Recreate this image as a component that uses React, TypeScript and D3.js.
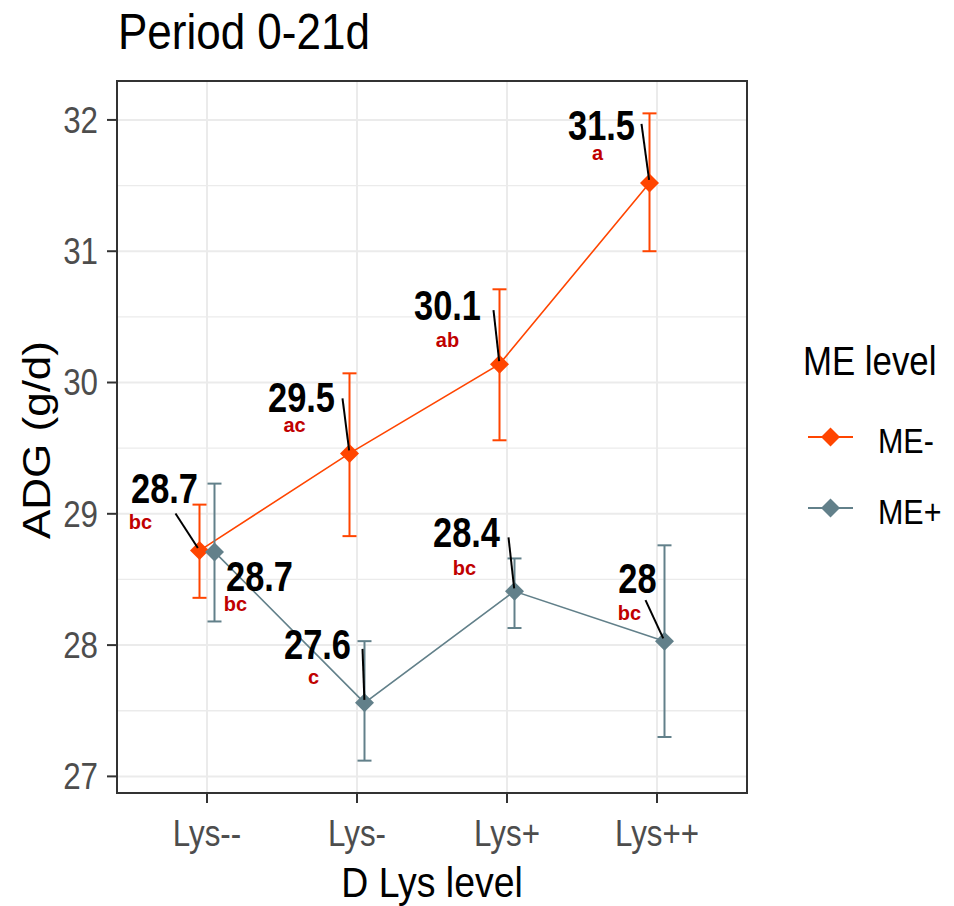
import * as d3 from "d3";

const categories = ["Lys--", "Lys-", "Lys+", "Lys++"];

const meMinus = [28.72, 29.46, 30.14, 31.52];
const meMinusLo = [28.36, 28.83, 29.56, 31.0];
const meMinusHi = [29.07, 30.07, 30.71, 32.05];
const meMinusLabels = ["28.7", "29.5", "30.1", "31.5"];
const meMinusLetters = ["bc", "ac", "ab", "a"];

const mePlus = [28.71, 27.56, 28.41, 28.03];
const mePlusLo = [28.18, 27.12, 28.13, 27.3];
const mePlusHi = [29.23, 28.03, 28.66, 28.76];
const mePlusLabels = ["28.7", "27.6", "28.4", "28"];
const mePlusLetters = ["bc", "c", "bc", "bc"];

const yTicks = [27, 28, 29, 30, 31, 32];
const yMinor = [27.5, 28.5, 29.5, 30.5, 31.5];

// repel-like label placement, pixel offsets from the point
const minusTextOff = [[-35, -62], [-48, -56], [-52, -59], [-48, -58]];
const minusLetterOff = [[-59, -29], [-55, -29], [-52, -25], [-52, -31]];
const minusSegOff: (number[] | null)[] = [[-24, -37], [-7, -55], [-6, -54], [-8, -59]];
const plusTextOff = [[45, 24], [-47, -59], [-48, -59], [-27, -63]];
const plusLetterOff = [[21, 51], [-51, -27], [-50, -24], [-35, -29]];
const plusSegOff: (number[] | null)[] = [null, [-2, -54], [-6, -54], [-19, -41]];

const ORANGE = "#FF4500";
const GREY = "#62808A";
const FONT = "'Liberation Sans', Arial, sans-serif";

const W = 954;
const H = 906;
const left = 117;
const right = 747;
const top = 81;
const bottom = 793;
const dodge = 7.5;

const allVals = [...meMinusLo, ...meMinusHi, ...mePlusLo, ...mePlusHi];
const [ymin, ymax] = d3.extent(allVals) as [number, number];
const pad = (ymax - ymin) * 0.05;

const x = d3.scalePoint<string>().domain(categories).range([left, right]).padding(0.6);
const y = d3.scaleLinear().domain([ymin - pad, ymax + pad]).range([bottom, top]);

const diamond = "M0,-9.5L9.5,0L0,9.5L-9.5,0Z";

function Txt(props: {
  x: number;
  y: number;
  text: string;
  size: number;
  sx?: number;
  anchor?: string;
  fill?: string;
  weight?: string;
  baseline?: string;
}) {
  const { sx = 0.87, anchor = "start", fill = "#000", weight = "normal", baseline } = props;
  return (
    <text
      transform={`translate(${props.x},${props.y}) scale(${sx},1)`}
      fontSize={props.size}
      fontFamily={FONT}
      fontWeight={weight}
      textAnchor={anchor}
      fill={fill}
      dominantBaseline={baseline}
    >
      {props.text}
    </text>
  );
}

function Series(props: {
  vals: number[];
  lo: number[];
  hi: number[];
  color: string;
  shift: number;
}) {
  const { vals, lo, hi, color, shift } = props;
  const px = (i: number) => (x(categories[i]) as number) + shift;
  const line = d3
    .line<number>()
    .x((_, i) => px(i))
    .y((d) => y(d));
  return (
    <g>
      {vals.map((_, i) => (
        <g key={i} stroke={color} strokeWidth={2}>
          <line x1={px(i)} x2={px(i)} y1={y(lo[i])} y2={y(hi[i])} />
          <line x1={px(i) - 7} x2={px(i) + 7} y1={y(lo[i])} y2={y(lo[i])} />
          <line x1={px(i) - 7} x2={px(i) + 7} y1={y(hi[i])} y2={y(hi[i])} />
        </g>
      ))}
      <path d={line(vals) ?? ""} fill="none" stroke={color} strokeWidth={1.6} />
    </g>
  );
}

function Points(props: { vals: number[]; color: string; shift: number }) {
  return (
    <g>
      {props.vals.map((v, i) => (
        <path
          key={i}
          d={diamond}
          fill={props.color}
          transform={`translate(${(x(categories[i]) as number) + props.shift},${y(v)})`}
        />
      ))}
    </g>
  );
}

function Labels(props: {
  vals: number[];
  shift: number;
  labels: string[];
  letters: string[];
  textOff: number[][];
  letterOff: number[][];
  segOff: (number[] | null)[];
}) {
  return (
    <g>
      {props.vals.map((v, i) => {
        const px = (x(categories[i]) as number) + props.shift;
        const py = y(v);
        const seg = props.segOff[i];
        let segEl = null;
        if (seg) {
          const dx = -seg[0];
          const dy = -seg[1];
          const len = Math.hypot(dx, dy);
          const k = (len - 3) / len;
          segEl = (
            <line
              x1={px + seg[0]}
              y1={py + seg[1]}
              x2={px + seg[0] + dx * k}
              y2={py + seg[1] + dy * k}
              stroke="#000"
              strokeWidth={2}
            />
          );
        }
        return (
          <g key={i}>
            {segEl}
            <Txt
              x={px + props.textOff[i][0]}
              y={py + props.textOff[i][1]}
              text={props.labels[i]}
              size={42}
              sx={0.82}
              anchor="middle"
              weight="bold"
              baseline="central"
            />
            <Txt
              x={px + props.letterOff[i][0]}
              y={py + props.letterOff[i][1]}
              text={props.letters[i]}
              size={21}
              sx={0.95}
              anchor="middle"
              weight="bold"
              fill="#C00000"
              baseline="central"
            />
          </g>
        );
      })}
    </g>
  );
}

export default function App() {
  return (
    <svg
      width={W}
      height={H}
      style={{ position: "absolute", left: 0, top: 0, background: "#fff" }}
    >
      <rect x={0} y={0} width={W} height={H} fill="#fff" />
      {/* grid */}
      <g stroke="#ebebeb">
        {yMinor.map((t) => (
          <line key={"m" + t} x1={left} x2={right} y1={y(t)} y2={y(t)} strokeWidth={1.3} />
        ))}
        {yTicks.map((t) => (
          <line key={t} x1={left} x2={right} y1={y(t)} y2={y(t)} strokeWidth={2} />
        ))}
        {categories.map((c) => (
          <line key={c} x1={x(c)} x2={x(c)} y1={top} y2={bottom} strokeWidth={2} />
        ))}
      </g>

      <Series vals={meMinus} lo={meMinusLo} hi={meMinusHi} color={ORANGE} shift={-dodge} />
      <Series vals={mePlus} lo={mePlusLo} hi={mePlusHi} color={GREY} shift={dodge} />
      <Points vals={meMinus} color={ORANGE} shift={-dodge} />
      <Points vals={mePlus} color={GREY} shift={dodge} />

      <Labels
        vals={meMinus}
        shift={-dodge}
        labels={meMinusLabels}
        letters={meMinusLetters}
        textOff={minusTextOff}
        letterOff={minusLetterOff}
        segOff={minusSegOff}
      />
      <Labels
        vals={mePlus}
        shift={dodge}
        labels={mePlusLabels}
        letters={mePlusLetters}
        textOff={plusTextOff}
        letterOff={plusLetterOff}
        segOff={plusSegOff}
      />

      {/* panel border */}
      <rect
        x={left}
        y={top}
        width={right - left}
        height={bottom - top}
        fill="none"
        stroke="#333"
        strokeWidth={2}
      />

      {/* y axis */}
      {yTicks.map((t) => (
        <g key={t}>
          <line x1={left - 10} x2={left} y1={y(t)} y2={y(t)} stroke="#333" strokeWidth={2} />
          <Txt x={98} y={y(t)} text={String(t)} size={36} anchor="end" fill="#4d4d4d" baseline="central" />
        </g>
      ))}
      {/* x axis */}
      {categories.map((c) => (
        <g key={c}>
          <line x1={x(c)} x2={x(c)} y1={bottom} y2={bottom + 10} stroke="#333" strokeWidth={2} />
          <Txt x={x(c) as number} y={846} text={c} size={36} anchor="middle" fill="#4d4d4d" />
        </g>
      ))}

      <Txt x={432} y={897} text="D Lys level" size={43} anchor="middle" />
      <text
        transform={`translate(50,440) rotate(-90) scale(1,0.87)`}
        fontSize={44}
        fontFamily={FONT}
        textAnchor="middle"
        fill="#000"
      >
        ADG (g/d)
      </text>

      <Txt x={118} y={49} text="Period 0-21d" size={50} sx={0.88} />

      {/* legend */}
      <Txt x={803} y={375} text="ME level" size={40} />
      {[
        { label: "ME-", color: ORANGE, ly: 437 },
        { label: "ME+", color: GREY, ly: 508 },
      ].map((d) => (
        <g key={d.label}>
          <line x1={808} x2={853} y1={d.ly} y2={d.ly} stroke={d.color} strokeWidth={2} />
          <path d={diamond} fill={d.color} transform={`translate(830.5,${d.ly})`} />
          <Txt x={878} y={d.ly + 4} text={d.label} size={35} baseline="central" />
        </g>
      ))}
    </svg>
  );
}
